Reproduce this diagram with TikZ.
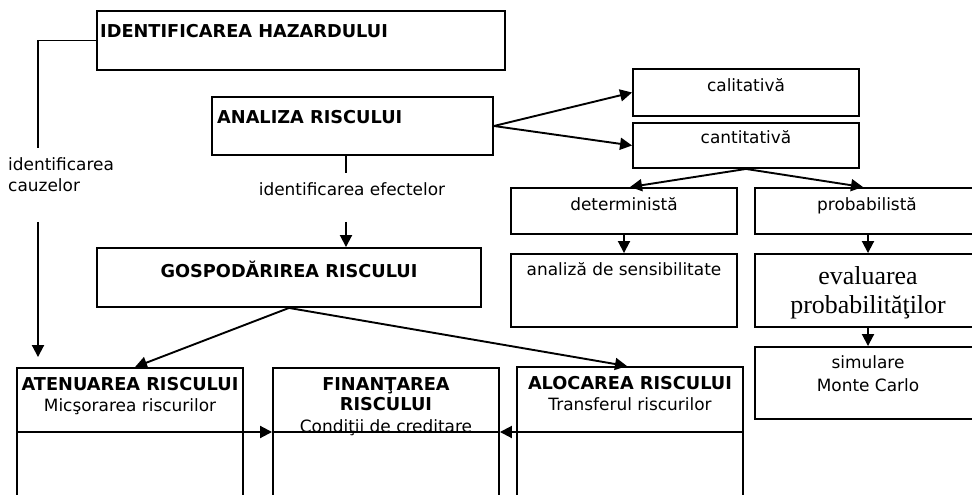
\documentclass[tikz,border=0pt]{standalone}
\usepackage{fontspec}
\setmainfont{DejaVu Sans}
\newfontfamily\tnr{Liberation Serif}
\usetikzlibrary{arrows.meta,fit}

\tikzset{
  box/.style={draw, line width=1.9bp, inner sep=0pt, rectangle},
  conn/.style={line width=1.9bp},
  arr/.style={conn, -{Triangle[length=12bp,width=12bp]}},
  lbl/.style={inner sep=0pt, anchor=base, font=\fontsize{17}{20}\selectfont},
  hdr/.style={inner sep=0pt, anchor=base, font=\fontsize{17.8}{21}\selectfont\bfseries},
  ser/.style={inner sep=0pt, anchor=base, font=\fontsize{26}{29}\selectfont\tnr},
}

\begin{document}
\begin{tikzpicture}[x=1bp, y=-1bp]
  \useasboundingbox (0,0) rectangle (972,495);
  \clip (0,0) rectangle (972,495);
  \fill[white] (0,0) rectangle (972,495);

  % boxes
  \node[box, fit={(97,11)(505,70)}]   (ih)   {};
  \node[box, fit={(212,97)(493,155)}] (an)   {};
  \node[box, fit={(97,248)(481,307)}] (gosp) {};
  \node[box, fit={(633,69)(859,116)}] (cal)  {};
  \node[box, fit={(633,123)(859,168)}] (cant) {};
  \node[box, fit={(511,188)(737,234)}] (det)  {};
  \node[box, fit={(755,188)(985,234)}] (prob) {};
  \node[box, fit={(511,254)(737,327)}] (sens) {};
  \node[box, fit={(755,254)(985,327)}] (eval) {};
  \node[box, fit={(755,347)(985,419)}] (sim)  {};
  \node[box, fit={(17,368)(243,510)}]  (aten) {};
  \node[box, fit={(273,368)(499,510)}] (fin)  {};
  \node[box, fit={(517,367)(743,510)}] (aloc) {};

  % texts
  \node[hdr, anchor=base west] (t-ih) at (100,38) {IDENTIFICAREA HAZARDULUI};
  \node[hdr, anchor=base west] (t-an) at (217,124) {ANALIZA RISCULUI};
  \node[lbl, anchor=base west] (t-cz1) at (8,171) {identificarea};
  \node[lbl, anchor=base west] (t-cz2) at (8,192) {cauzelor};
  \node[lbl] (t-ef) at (352,196) {identificarea efectelor};
  \node[hdr] (t-gosp) at (289,278) {GOSPODĂRIREA RISCULUI};
  \node[lbl] (t-cal) at (746,92) {calitativă};
  \node[lbl] (t-cant) at (746,144) {cantitativă};
  \node[lbl] (t-det) at (624,211) {deterministă};
  \node[lbl] (t-prob) at (867,211) {probabilistă};
  \node[lbl] (t-sens) at (624,276) {analiză de sensibilitate};
  \node[ser] (t-ev1) at (868,285) {evaluarea};
  \node[ser] (t-ev2) at (868,314) {probabilităţilor};
  \node[lbl] (t-sim1) at (868,369) {simulare};
  \node[lbl] (t-sim2) at (868,391) {Monte Carlo};
  \node[hdr] (t-at1) at (130,390) {ATENUAREA RISCULUI};
  \node[lbl] (t-at2) at (130,411) {Micşorarea riscurilor};
  \node[hdr] (t-fi1) at (386,390) {FINANŢAREA};
  \node[hdr] (t-fi2) at (386,410) {RISCULUI};
  \node[lbl] (t-fi3) at (386,432) {Condiţii de creditare};
  \node[hdr] (t-al1) at (630,389) {ALOCAREA RISCULUI};
  \node[lbl] (t-al2) at (630,410) {Transferul riscurilor};

  % connector helpers
  \coordinate (cz-top) at (38,148);
  \coordinate (cz-bot) at (38,222);
  \coordinate (ef-top) at (346,173);
  \coordinate (ef-bot) at (346,222);
  \coordinate (hl) at (0,432);

  % causes branch
  \draw[conn] (ih.west) -| (cz-top);
  \draw[arr, shorten >=10bp] (cz-bot) -- (cz-bot |- aten.north);

  % effects branch
  \draw[conn] (an.south -| ef-top) -- (ef-top);
  \draw[arr] (ef-bot) -- (ef-bot |- gosp.north);

  % management fan-out
  \draw[arr] (gosp.south) -- ([xshift=5bp]aten.north);
  \draw[arr] (gosp.south) -- ([xshift=-3bp]aloc.north);

  % analysis types
  \draw[arr] (an.east) -- (cal.west);
  \draw[arr] (an.east) -- (cant.west);
  \draw[arr] (cant.south) -- ([xshift=6bp]det.north);
  \draw[arr] (cant.south) -- ([xshift=-7bp]prob.north);
  \draw[arr] (det.south) -- (sens.north);
  \draw[arr] ([xshift=-2bp]prob.south) -- ([xshift=-2bp]eval.north);
  \draw[arr] ([xshift=-2bp]eval.south) -- ([xshift=-2bp]sim.north);

  % bottom links into financing
  \draw[arr] (aten.west |- hl) -- (fin.west |- hl);
  \draw[arr] (aloc.east |- hl) -- (fin.east |- hl);
  \draw[conn] (fin.west |- hl) -- (fin.east |- hl);
\end{tikzpicture}
\end{document}
